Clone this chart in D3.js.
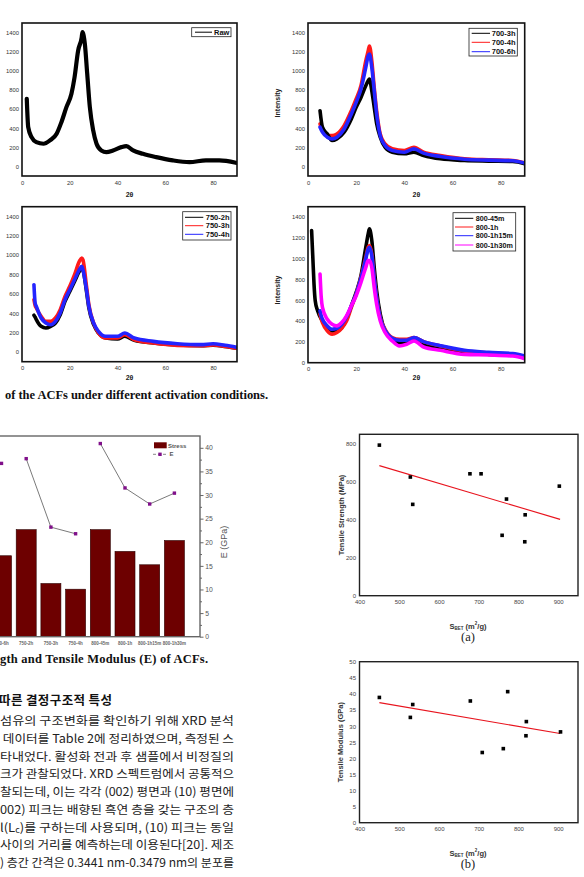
<!DOCTYPE html>
<html><head><meta charset="utf-8">
<script src="https://cdn.jsdelivr.net/npm/d3@7"></script>
<style>body{margin:0;background:#fff}svg{display:block}</style>
</head><body>
<script>
// ---------------- DATA ----------------
// XRD patterns (2θ in degrees, intensity in counts)
const xrdXTicks = [0, 20, 40, 60, 80];
const xrdYTicks = [0, 200, 400, 600, 800, 1000, 1200, 1400];

const rawTheta = [2, 2.6, 4, 6, 9, 11.7, 14.5, 16.5, 18.6, 20.7, 22, 23.5, 25, 25.3, 26.3, 27.3, 28.4, 29.8, 31.2, 33.2, 35.3, 38.1, 41.6, 43.7, 46.5, 50.6, 56.2, 63.1, 70.1, 77, 82.6, 89.5];
const rawI     = [707, 411, 306, 254, 237, 272, 342, 463, 620, 760, 933, 1212, 1351, 1404, 1282, 969, 620, 376, 237, 167, 150, 167, 202, 212, 167, 132, 97, 63, 45, 63, 63, 38];

const theta700 = [5, 6, 8, 10, 12, 15, 18, 20, 22, 24, 25, 25.5, 26.5, 27.5, 28.5, 30, 32, 35, 40, 44, 48, 55, 65, 75, 85, 90];
const i700_3h  = [583, 410, 340, 271, 288, 358, 497, 618, 722, 844, 896, 913, 790, 620, 450, 306, 201, 149, 132, 149, 115, 80, 62, 56, 52, 28];
const i700_4h  = [444, 375, 323, 323, 340, 427, 583, 705, 844, 1104, 1208, 1260, 1104, 826, 583, 340, 236, 184, 167, 201, 149, 115, 80, 69, 62, 35];
const i700_6h  = [410, 358, 306, 288, 306, 392, 549, 670, 809, 1035, 1156, 1174, 1035, 792, 549, 323, 219, 167, 149, 184, 139, 104, 76, 66, 59, 35];

const theta750 = [5, 5.5, 6, 8, 10, 12, 14, 16, 18, 20, 22, 24, 25, 25.5, 27, 28, 30, 32, 35, 40, 43, 47, 55, 65, 75, 80, 85, 90];
const i750_2h  = [380, 360, 334, 265, 248, 265, 299, 385, 523, 626, 729, 832, 867, 850, 626, 454, 282, 196, 144, 134, 162, 120, 93, 72, 65, 70, 58, 38];
const i750_3h  = [540, 480, 454, 368, 316, 316, 351, 437, 574, 678, 798, 936, 970, 953, 678, 488, 299, 196, 144, 144, 179, 127, 93, 69, 65, 72, 58, 38];
const i750_4h  = [695, 506, 471, 351, 299, 282, 316, 402, 540, 643, 746, 850, 884, 850, 643, 471, 299, 213, 162, 162, 196, 144, 110, 86, 76, 86, 69, 48];

const theta800_45m = [1.5, 2, 2.5, 3, 4, 6, 8, 10, 12, 14, 16, 18, 20, 22, 24, 25, 25.5, 26.5, 27.5, 28.5, 30, 32, 35, 38, 41, 44, 48, 55, 65, 75, 85, 90];
const i800_45m     = [1271, 1014, 756, 595, 499, 402, 338, 306, 306, 338, 418, 547, 676, 837, 1110, 1239, 1287, 1175, 917, 692, 467, 306, 225, 193, 193, 225, 177, 138, 97, 80, 74, 48];
const theta800 = [5, 5.5, 6, 8, 10, 12, 14, 16, 18, 20, 22, 24, 25, 25.5, 26.5, 27.5, 28.5, 30, 32, 35, 38, 41, 44, 48, 55, 65, 75, 85, 90];
const i800_1h     = [467, 420, 386, 306, 274, 290, 330, 400, 531, 660, 821, 1014, 1110, 1126, 1046, 821, 628, 434, 322, 241, 225, 225, 241, 203, 161, 113, 93, 80, 58];
const i800_1h15m  = [499, 450, 418, 354, 322, 331, 370, 440, 547, 660, 814, 998, 1094, 1110, 1030, 814, 621, 428, 312, 235, 216, 216, 241, 203, 164, 119, 100, 87, 64];
const i800_1h30m  = [853, 628, 531, 418, 370, 354, 386, 451, 547, 644, 772, 917, 982, 982, 917, 724, 563, 402, 290, 209, 161, 177, 209, 151, 119, 80, 74, 64, 39];

// Bar chart: tensile strength (bars, MPa) and modulus E (GPa)
const barCats   = ["700-6h", "750-2h", "750-3h", "750-4h", "800-45m", "800-1h", "800-1h15m", "800-1h30m"];
const barGroups = ["700", "750", "750", "750", "800", "800", "800", "800"];
const stressMPa = [484, 640, 318, 284, 640, 510, 430, 575];
const modulusE  = [36.7, 37.7, 23.2, 21.8, 40.9, 31.5, 28.1, 30.4];
const eTicks    = [0, 5, 10, 15, 20, 25, 30, 35, 40];

// Scatter (a): S_BET vs tensile strength, (b): S_BET vs tensile modulus
const sbetTicks   = [400, 500, 600, 700, 800, 900];
const sbetA       = [450, 528, 534, 678, 706, 759, 770, 816, 817, 903];
const strengthA   = [793, 625, 481, 642, 642, 318, 509, 284, 426, 577];
const strengthTicks = [0, 200, 400, 600, 800];
const fitAx = [450, 905], fitAy = [685, 402];
const sbetB       = [450, 528, 534, 679, 709, 762, 773, 819, 820, 906];
const modulusB    = [38.9, 32.7, 36.7, 37.8, 21.8, 23.0, 40.7, 27.0, 31.4, 28.2];
const modulusTicks = [0, 5, 10, 15, 20, 25, 30, 35, 40, 45, 50];
const fitBx = [450, 905], fitBy = [37.3, 27.7];

// Page text
const caption1 = "of the ACFs under different activation conditions.";
const caption2 = "gth and Tensile Modulus (E) of ACFs.";
const heading  = "따른 결정구조적 특성";
const bodyLines = [
  "섬유의 구조변화를 확인하기 위해 XRD 분석",
  " 데이터를 Table 2에 정리하였으며, 측정된 스",
  "타내었다. 활성화 전과 후 샘플에서 비정질의",
  "크가 관찰되었다. XRD 스펙트럼에서 공통적으",
  "찰되는데, 이는 각각 (002) 평면과 (10) 평면에",
  "002) 피크는 배향된 흑연 층을 갖는 구조의 층",
  "l(L|c|)를 구하는데 사용되며, (10) 피크는 동일",
  "사이의 거리를 예측하는데 이용된다[20]. 제조",
  ") 층간 간격은 0.3441 nm-0.3479 nm의 분포를"
];

// ---------------- DRAW ----------------
const W = 584, H = 877;
const SANS = "'Liberation Sans', Arial, sans-serif";
const SERIF = "'Liberation Serif', 'Times New Roman', serif";
const KR = "'Noto Sans CJK KR', sans-serif";
const svg = d3.select("body").append("svg").attr("width", W).attr("height", H);
const defs = svg.append("defs");
const fmtInt = d3.format("d");

function styleAxis(g, size, color, weight) {
  g.select(".domain").remove();
  g.selectAll("text").attr("font-size", size).attr("font-family", SANS)
    .attr("fill", color).attr("font-weight", weight || "normal");
}

function xrdPanel(cfg) {
  const x = d3.scaleLinear().domain([0, 90]).range([cfg.x0, cfg.x1]);
  const y = d3.scaleLinear().domain(cfg.ydom).range([cfg.y1, cfg.y0]);
  const g = svg.append("g");
  defs.append("clipPath").attr("id", "clip" + cfg.id).append("rect")
    .attr("x", cfg.x0).attr("y", cfg.y0).attr("width", cfg.x1 - cfg.x0).attr("height", cfg.y1 - cfg.y0);
  const line = d3.line().x(d => x(d[0])).y(d => y(d[1])).curve(d3.curveMonotoneX);
  const pg = g.append("g").attr("clip-path", `url(#clip${cfg.id})`);
  cfg.series.forEach(s => {
    pg.append("path").datum(d3.zip(s.theta, s.vals)).attr("d", line)
      .attr("fill", "none").attr("stroke", s.color).attr("stroke-width", cfg.sw || 3.6)
      .attr("stroke-linejoin", "round").attr("stroke-linecap", "round");
  });
  g.append("rect").attr("x", cfg.x0).attr("y", cfg.y0).attr("width", cfg.x1 - cfg.x0).attr("height", cfg.y1 - cfg.y0)
    .attr("fill", "none").attr("stroke", "#111").attr("stroke-width", 1.6);
  g.append("g").attr("transform", `translate(${cfg.x0},0)`)
    .call(d3.axisLeft(y).tickValues(xrdYTicks).tickFormat(fmtInt).tickSize(0).tickPadding(3))
    .call(a => styleAxis(a, 5.8, "#333"));
  g.append("g").attr("transform", `translate(0,${cfg.y1})`)
    .call(d3.axisBottom(x).tickValues(xrdXTicks).tickFormat(fmtInt).tickSize(0).tickPadding(cfg.xpad))
    .call(a => styleAxis(a, 5.8, "#333"));
  g.append("text").attr("x", (cfg.x0 + cfg.x1) / 2).attr("y", cfg.xlabY).attr("text-anchor", "middle")
    .attr("dominant-baseline", "central").attr("font-family", SANS).attr("font-weight", "bold")
    .attr("font-size", 7).attr("fill", "#222").text("2θ");
  if (cfg.intensity) {
    g.append("text").attr("transform", `translate(${cfg.intensity[0]},${cfg.intensity[1]}) rotate(-90)`)
      .attr("text-anchor", "middle").attr("dominant-baseline", "central").attr("font-family", SANS)
      .attr("font-weight", "bold").attr("font-size", 7).attr("fill", "#222").text("Intensity");
  }
  const L = cfg.legend;
  g.append("rect").attr("x", L.x0).attr("y", L.y0).attr("width", L.x1 - L.x0).attr("height", L.y1 - L.y0)
    .attr("fill", "#fff").attr("stroke", "#222").attr("stroke-width", 0.8);
  cfg.series.forEach((s, i) => {
    const yy = L.rows[i];
    g.append("line").attr("x1", L.lx0).attr("x2", L.lx1).attr("y1", yy).attr("y2", yy)
      .attr("stroke", s.color).attr("stroke-width", 1);
    g.append("text").attr("x", L.tx).attr("y", yy).attr("text-anchor", L.anchor || "start")
      .attr("dominant-baseline", "central").attr("font-family", SANS).attr("font-weight", "bold")
      .attr("font-size", L.fs || 7.5).attr("fill", "#111").text(s.name);
  });
}

xrdPanel({id: "tl", x0: 22, x1: 237, y0: 23, y1: 176, ydom: [-100, 1500], xpad: 5, xlabY: 194, sw: 4.2,
  series: [{name: "Raw", theta: rawTheta, vals: rawI, color: "#000"}],
  legend: {x0: 191.7, x1: 231, y0: 27.7, y1: 36.7, rows: [32.2], lx0: 195, lx1: 212, tx: 214}});

xrdPanel({id: "tr", x0: 308, x1: 524.7, y0: 23, y1: 176, ydom: [-100, 1500], xpad: 5, xlabY: 194, intensity: [277, 103],
  series: [
    {name: "700-4h", theta: theta700, vals: i700_4h, color: "#ff1a1a"},
    {name: "700-3h", theta: theta700, vals: i700_3h, color: "#000"},
    {name: "700-6h", theta: theta700, vals: i700_6h, color: "#2424ff"}],
  legend: {x0: 469, x1: 517.3, y0: 28.3, y1: 56, rows: [42.3, 33.3, 51.7], lx0: 471.7, lx1: 490, tx: 515.5, anchor: "end"}});

xrdPanel({id: "ml", x0: 22, x1: 237, y0: 206.7, y1: 361.7, ydom: [-100, 1500], xpad: 4, xlabY: 377.7,
  series: [
    {name: "750-2h", theta: theta750, vals: i750_2h, color: "#000"},
    {name: "750-3h", theta: theta750, vals: i750_3h, color: "#ff1a1a"},
    {name: "750-4h", theta: theta750, vals: i750_4h, color: "#2424ff"}],
  legend: {x0: 182.7, x1: 231, y0: 211.7, y1: 240, rows: [217.3, 225.7, 234.3], lx0: 185, lx1: 203.3, tx: 229.5, anchor: "end"}});

xrdPanel({id: "mr", x0: 308, x1: 524.7, y0: 206.7, y1: 362.7, ydom: [0, 1500], xpad: 4, xlabY: 377.7, intensity: [277, 290],
  series: [
    {name: "800-45m", theta: theta800_45m, vals: i800_45m, color: "#000"},
    {name: "800-1h", theta: theta800, vals: i800_1h, color: "#ff1a1a"},
    {name: "800-1h15m", theta: theta800, vals: i800_1h15m, color: "#2424ff"},
    {name: "800-1h30m", theta: theta800, vals: i800_1h30m, color: "#ff00ff"}],
  legend: {x0: 453, x1: 515.7, y0: 212.7, y1: 251, rows: [218.3, 227, 235.7, 245], lx0: 455, lx1: 473.3, tx: 475.7, fs: 7.2}});

// Captions
svg.append("text").attr("x", 5).attr("y", 395).attr("dominant-baseline", "central")
  .attr("font-family", SERIF).attr("font-weight", "bold").attr("font-size", 12.5).attr("fill", "#111")
  .attr("textLength", 263).attr("lengthAdjust", "spacing").text(caption1);

// ---------------- Bar chart ----------------
(function () {
  const top = 436, bottom = 636.7, right = 200;
  const x = d3.scaleBand().domain(barCats).range([-10.85, 186.75]).paddingInner(0.19).paddingOuter(0.095);
  const yS = d3.scaleLinear().domain([0, 1200]).range([bottom, top]);
  const yE = d3.scaleLinear().domain([0, 42.5]).range([bottom, top]);
  const g = svg.append("g");
  g.selectAll("rect.bar").data(barCats).join("rect").attr("class", "bar")
    .attr("x", d => x(d)).attr("width", x.bandwidth())
    .attr("y", (d, i) => yS(stressMPa[i])).attr("height", (d, i) => bottom - yS(stressMPa[i]))
    .attr("fill", "#6d0000").attr("stroke", "#2b0000").attr("stroke-width", 0.6);
  const pts = barCats.map((c, i) => ({c, g: barGroups[i], e: modulusE[i]}));
  const line = d3.line().x(d => x(d.c) + x.bandwidth() / 2).y(d => yE(d.e));
  d3.group(pts, d => d.g).forEach(arr => {
    g.append("path").datum(arr).attr("d", line).attr("fill", "none").attr("stroke", "#7a7a7a").attr("stroke-width", 1);
  });
  g.selectAll("rect.pt").data(pts).join("rect").attr("class", "pt")
    .attr("x", d => x(d.c) + x.bandwidth() / 2 - 1.7).attr("y", d => yE(d.e) - 1.7)
    .attr("width", 3.4).attr("height", 3.4).attr("fill", "#80108a");
  g.append("rect").attr("x", -10).attr("y", top).attr("width", right + 10).attr("height", bottom - top)
    .attr("fill", "none").attr("stroke", "#666").attr("stroke-width", 1.4);
  // right axis
  const minor = d3.range(0, 42.5, 2.5).filter(v => !eTicks.includes(v));
  g.append("g").attr("transform", `translate(${right},0)`)
    .call(d3.axisRight(yE).tickValues(minor).tickSize(2).tickFormat(""))
    .call(a => { a.select(".domain").remove(); a.selectAll("line").attr("stroke", "#666"); });
  g.append("g").attr("transform", `translate(${right},0)`)
    .call(d3.axisRight(yE).tickValues(eTicks).tickSize(3.5).tickPadding(1.8))
    .call(a => { styleAxis(a, 6.8, "#555"); a.selectAll("line").attr("stroke", "#666"); });
  g.append("g").attr("transform", `translate(0,${bottom})`)
    .call(d3.axisBottom(x).tickSize(0).tickPadding(4.8))
    .call(a => styleAxis(a, 4.5, "#666", "bold"));
  g.append("text").attr("transform", `translate(224,542) rotate(-90)`).attr("text-anchor", "middle")
    .attr("dominant-baseline", "central").attr("font-family", SANS).attr("font-size", 9).attr("fill", "#555").text("E (GPa)");
  // legend
  g.append("rect").attr("x", 154).attr("y", 442.3).attr("width", 12.7).attr("height", 6).attr("fill", "#6d0000");
  g.append("text").attr("x", 168).attr("y", 445.6).attr("dominant-baseline", "central").attr("font-family", SANS)
    .attr("font-weight", "bold").attr("font-size", 6).attr("fill", "#555").text("Stress");
  g.append("line").attr("x1", 153).attr("x2", 167).attr("y1", 454.3).attr("y2", 454.3)
    .attr("stroke", "#7a7a7a").attr("stroke-width", 0.9).attr("stroke-dasharray", "3,2");
  g.append("rect").attr("x", 158.3).attr("y", 452.6).attr("width", 3.4).attr("height", 3.4).attr("fill", "#80108a");
  g.append("text").attr("x", 169.5).attr("y", 454.3).attr("dominant-baseline", "central").attr("font-family", SANS)
    .attr("font-weight", "bold").attr("font-size", 6).attr("fill", "#555").text("E");
})();

svg.append("text").attr("x", 0).attr("y", 659.3).attr("dominant-baseline", "central")
  .attr("font-family", SERIF).attr("font-weight", "bold").attr("font-size", 12.5).attr("fill", "#111")
  .attr("textLength", 208).attr("lengthAdjust", "spacing").text(caption2);

// Korean text
svg.append("text").attr("x", -1).attr("y", 699.3).attr("dominant-baseline", "central")
  .attr("font-family", KR).attr("font-weight", "bold").attr("font-size", 12.5).attr("fill", "#111")
  .attr("textLength", 113).attr("lengthAdjust", "spacing").text(heading);
bodyLines.forEach((ln, i) => {
  const y = 719.3 + i * 17.72;
  const t = svg.append("text").attr("x", 0).attr("y", y).attr("dominant-baseline", "central")
    .attr("font-family", KR).attr("font-size", 11.8).attr("fill", "#222")
    .attr("textLength", 234).attr("lengthAdjust", "spacingAndGlyphs").attr("xml:space", "preserve");
  const parts = ln.split("|");
  parts.forEach((p, k) => {
    const ts = t.append("tspan").text(p);
    if (k === 1) ts.attr("font-size", 8).attr("dy", 3);
    if (k === 2) ts.attr("dy", -3);
  });
});

// ---------------- Scatter plots ----------------
function scatter(cfg) {
  const x = d3.scaleLinear().domain([400, 950]).range([359.5, 578]);
  const y = d3.scaleLinear().domain(cfg.ydom).range([cfg.y1, cfg.y0]);
  const g = svg.append("g");
  g.append("rect").attr("x", 359.5).attr("y", cfg.y0).attr("width", 578 - 359.5).attr("height", cfg.y1 - cfg.y0)
    .attr("fill", "none").attr("stroke", "#222").attr("stroke-width", 1.4);
  g.append("line").attr("x1", x(cfg.fitx[0])).attr("x2", x(cfg.fitx[1]))
    .attr("y1", y(cfg.fity[0])).attr("y2", y(cfg.fity[1])).attr("stroke", "#e8141e").attr("stroke-width", 1.1);
  g.selectAll("rect.p").data(d3.zip(cfg.xs, cfg.ys)).join("rect").attr("class", "p")
    .attr("x", d => x(d[0]) - 1.8).attr("y", d => y(d[1]) - 1.8).attr("width", 3.6).attr("height", 3.6).attr("fill", "#000");
  g.append("g").attr("transform", `translate(359.5,0)`)
    .call(d3.axisLeft(y).tickValues(cfg.yticks).tickFormat(fmtInt).tickSize(0).tickPadding(3.5))
    .call(a => styleAxis(a, 6, "#444"));
  g.append("g").attr("transform", `translate(0,${cfg.y1})`)
    .call(d3.axisBottom(x).tickValues(sbetTicks).tickFormat(fmtInt).tickSize(0).tickPadding(4.5))
    .call(a => styleAxis(a, 6, "#444"));
  g.append("text").attr("transform", `translate(${cfg.ylabX},${(cfg.y0 + cfg.y1) / 2}) rotate(-90)`)
    .attr("text-anchor", "middle").attr("dominant-baseline", "central").attr("font-family", SANS)
    .attr("font-weight", "bold").attr("font-size", 7.5).attr("fill", "#333").text(cfg.ylabel);
  const xl = g.append("text").attr("x", 468).attr("y", cfg.y1 + 30).attr("text-anchor", "middle")
    .attr("dominant-baseline", "central").attr("font-family", SANS).attr("font-weight", "bold")
    .attr("font-size", 7.5).attr("fill", "#333");
  xl.append("tspan").text("S");
  xl.append("tspan").attr("font-size", 4.5).attr("dy", 2).text("BET");
  xl.append("tspan").attr("dy", -2).text(" (m");
  xl.append("tspan").attr("font-size", 4.5).attr("dy", -2.5).text("2");
  xl.append("tspan").attr("dy", 2.5).text("/g)");
  g.append("text").attr("x", 468).attr("y", cfg.y1 + 41.5).attr("text-anchor", "middle")
    .attr("dominant-baseline", "central").attr("font-family", SERIF).attr("font-size", 12.5)
    .attr("fill", "#222").text(cfg.tag);
}

scatter({y0: 434.3, y1: 595.7, ydom: [0, 850], yticks: strengthTicks, xs: sbetA, ys: strengthA,
  fitx: fitAx, fity: fitAy, ylabel: "Tensile Strength (MPa)", ylabX: 341, tag: "(a)"});
scatter({y0: 661.7, y1: 822.7, ydom: [0, 50], yticks: modulusTicks, xs: sbetB, ys: modulusB,
  fitx: fitBx, fity: fitBy, ylabel: "Tensile Modulus (GPa)", ylabX: 340, tag: "(b)"});
</script>
</body></html>
